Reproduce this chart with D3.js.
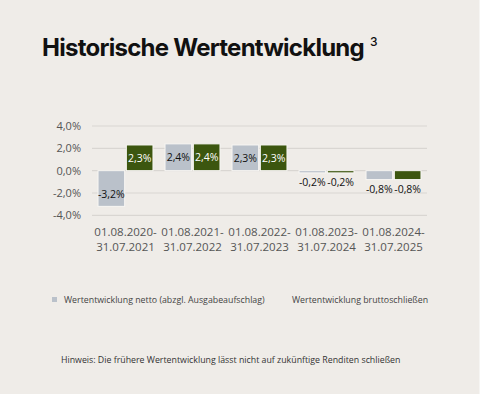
<!DOCTYPE html>
<html><head><meta charset="utf-8">
<script src="https://cdn.jsdelivr.net/npm/d3@7"></script>
<style>
html,body{margin:0;padding:0;background:#efece8;}
svg{display:block;}
</style></head>
<body>
<svg id="c" width="480" height="394"></svg>
<script>
const categories = [["01.08.2020-","31.07.2021"],["01.08.2021-","31.07.2022"],["01.08.2022-","31.07.2023"],["01.08.2023-","31.07.2024"],["01.08.2024-","31.07.2025"]];
const netto = [-3.2, 2.4, 2.3, -0.2, -0.8];
const brutto = [2.3, 2.4, 2.3, -0.2, -0.8];
const yTicks = [4, 2, 0, -2, -4];
const seriesNames = ["Wertentwicklung netto (abzgl. Ausgabeaufschlag)", "Wertentwicklung bruttoschließen"];

const svg = d3.select("#c");
const fmt = v => d3.format(".1f")(v).replace(".", ",").replace("−","-") + "%";

// Title
const titleText = "Historische Wertentwicklung";
const title = svg.append("text").attr("x", 42).attr("y", 56)
  .attr("font-family", "Inter, 'DejaVu Sans', sans-serif").attr("font-weight", 700)
  .attr("font-size", 24).attr("fill", "#111")
  .text(titleText);
const tl = title.node().getComputedTextLength();
title.attr("letter-spacing", (322 - tl) / (titleText.length));
svg.append("text").attr("x", 370).attr("y", 46)
  .attr("font-family", "Inter, sans-serif").attr("font-weight", 500).attr("font-size", 12).attr("fill", "#111").text("3");

const x = d3.scaleBand().domain(d3.range(categories.length)).range([92, 427]).paddingInner(0.18).paddingOuter(0.09);
const xs = d3.scaleBand().domain([0,1]).range([0, x.bandwidth()]).paddingInner(0.06);
const y = d3.scaleLinear().domain([-4, 4]).range([215.3, 126]);

// grid
svg.append("g").selectAll("line").data(yTicks).join("line")
  .attr("x1", 92).attr("x2", 427).attr("y1", d => y(d)).attr("y2", d => y(d))
  .attr("stroke", "#d9d6d2").attr("stroke-width", 1.2);

// y axis
const yAxis = d3.axisLeft(y).tickValues(yTicks).tickSize(0).tickPadding(0).tickFormat(fmt);
const gy = svg.append("g").attr("transform", "translate(81,0)").call(yAxis);
gy.select(".domain").remove();
gy.selectAll("text").attr("font-family", "'Open Sans', sans-serif").attr("font-size", 11).attr("fill", "#555");

// x axis labels
const gx = svg.append("g");
categories.forEach((c, i) => {
  const t = gx.append("text").attr("x", x(i) + x.bandwidth()/2).attr("y", 236)
    .attr("text-anchor", "middle").attr("font-family", "'Open Sans', sans-serif").attr("font-size", 11.5).attr("fill", "#555");
  t.append("tspan").attr("x", x(i) + x.bandwidth()/2).attr("dy", 0).text(c[0]);
  t.append("tspan").attr("x", x(i) + x.bandwidth()/2).attr("dy", 15).text(c[1]);
});

const colors = ["#bac1ca", "#3c560f"];
const series = [netto, brutto];
series.forEach((vals, s) => {
  const g = svg.append("g");
  g.selectAll("rect").data(vals).join("rect")
    .attr("x", (d, i) => x(i) + xs(s))
    .attr("width", xs.bandwidth())
    .attr("y", d => Math.min(y(d), y(0)))
    .attr("height", d => Math.abs(y(d) - y(0)))
    .attr("fill", colors[s]).attr("stroke", "#f7f6f3").attr("stroke-width", 1);
  g.selectAll("text").data(vals).join("text")
    .attr("x", (d, i) => x(i) + xs(s) + xs.bandwidth()/2)
    .attr("y", d => {
      const h = Math.abs(y(d) - y(0));
      if (h > 16) return (y(d) + y(0)) / 2 + 4 + (d < 0 ? 5 : 0);
      return y(d) + 13.5;
    })
    .attr("text-anchor", "middle").attr("font-family", "'Open Sans', sans-serif").attr("font-size", 10.5)
    .attr("fill", d => (Math.abs(y(d) - y(0)) > 16 && s === 1) ? "#fff" : "#111")
    .text(d => fmt(d));
});

// legend
svg.append("rect").attr("x", 52).attr("y", 297).attr("width", 5).attr("height", 5).attr("fill", colors[0]);
svg.append("text").attr("x", 64).attr("y", 303).attr("font-family", "'Open Sans', sans-serif").attr("font-size", 8.8).attr("fill", "#444").text(seriesNames[0]);
svg.append("text").attr("x", 292).attr("y", 303).attr("font-family", "'Open Sans', sans-serif").attr("font-size", 8.8).attr("fill", "#444").text(seriesNames[1]);

// note
svg.append("text").attr("x", 61).attr("y", 363).attr("font-family", "'Open Sans', sans-serif").attr("font-size", 8.8).attr("fill", "#333")
  .text("Hinweis: Die frühere Wertentwicklung lässt nicht auf zukünftige Renditen schließen");

// faint right edge
svg.append("line").attr("x1", 479.5).attr("x2", 479.5).attr("y1", 0).attr("y2", 394).attr("stroke", "#f6f5f3");
</script>
</body></html>
